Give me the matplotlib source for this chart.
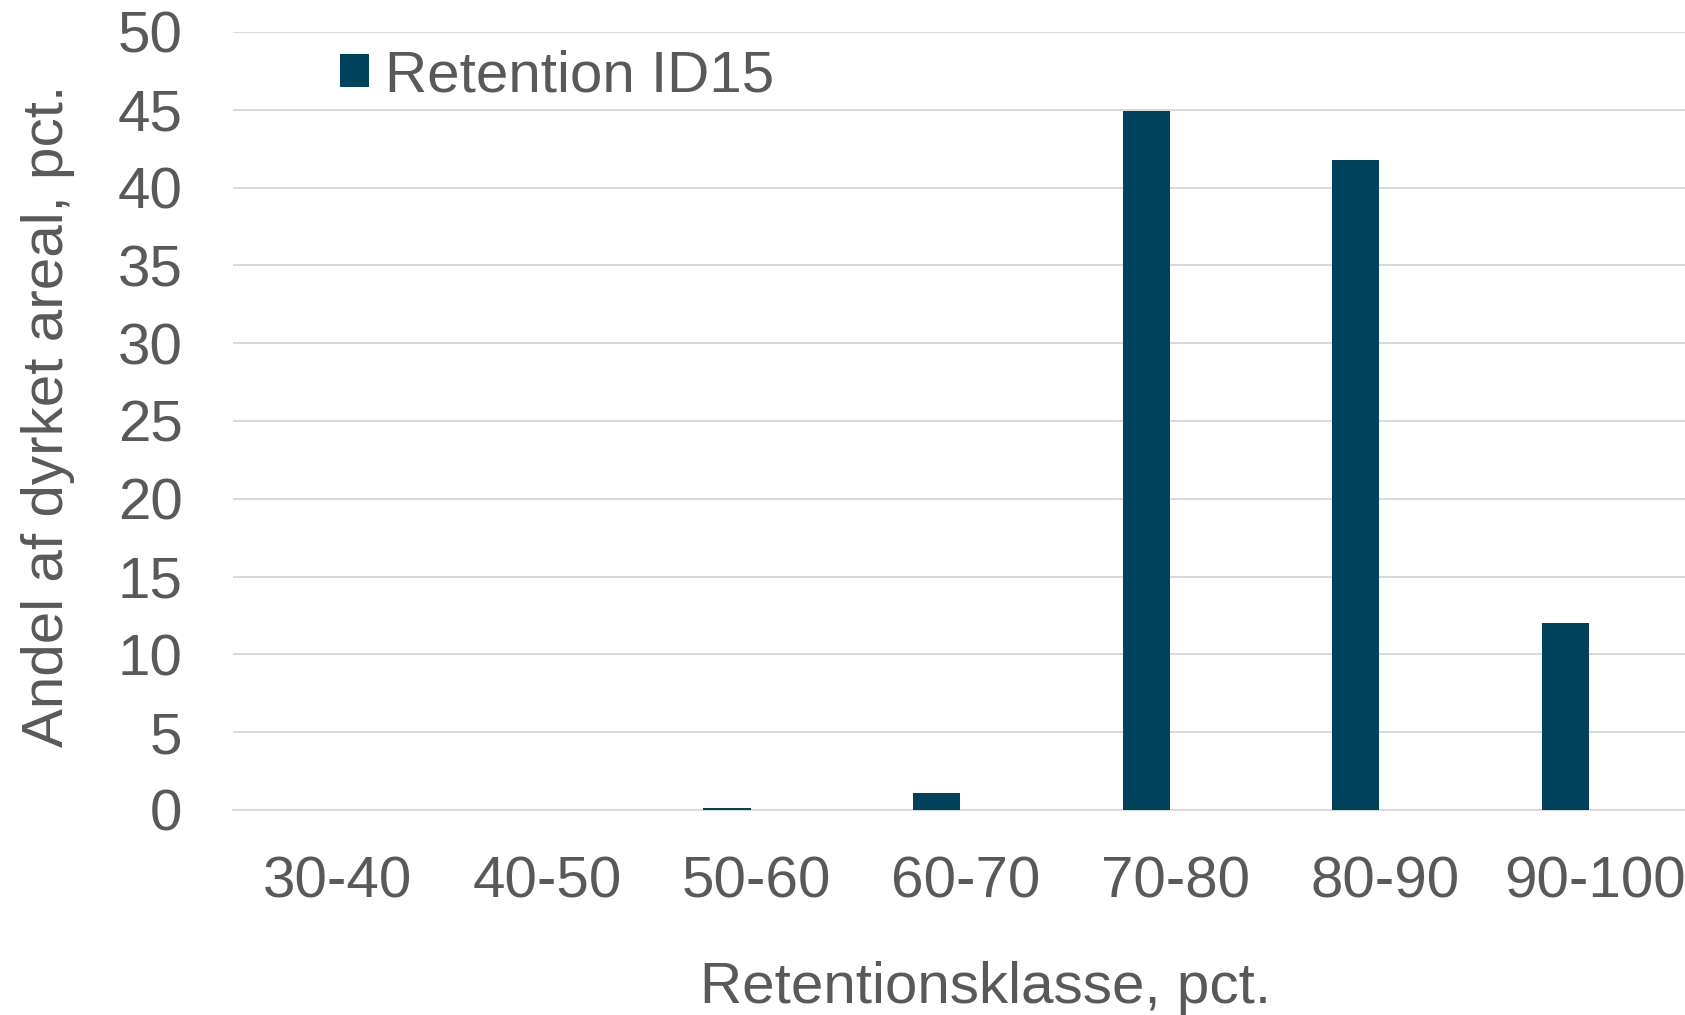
import matplotlib
matplotlib.use("Agg")
import matplotlib.pyplot as plt

# data
klasser = ['30-40', '40-50', '50-60', '60-70', '70-80', '80-90', '90-100']
andel = [0.0, 0.0, 0.1, 1.1, 44.9, 41.8, 12.0]
yticks = [0, 5, 10, 15, 20, 25, 30, 35, 40, 45, 50]

txtcol = '#595959'
barcol = '#00425c'
gridcol = '#d9d9d9'
fs = 42

plt.rcParams['font.family'] = ['Liberation Sans', 'DejaVu Sans']

fig = plt.figure(figsize=(16.85, 10.15), dpi=100)
# plot area runs past the right edge of the picture (last label is cut off)
ax = fig.add_axes([0.138, 0.202, 0.8706, 0.7665])

x = list(range(len(klasser)))
# bars sit a bit left of the category centre (excel gap for a second series)
ax.bar([i - 0.14 for i in x], andel, width=0.226, color=barcol,
       label='Retention ID15', zorder=3)

ax.set_xlim(-0.5, len(klasser) - 0.5)
ax.set_ylim(0, 50)
ax.set_yticks(yticks)
ax.set_xticks(x)
ax.set_xticklabels(klasser)
ax.yaxis.grid(True, color=gridcol, linewidth=1.5, zorder=0)
ax.set_axisbelow(True)
for s in ['top', 'right', 'left']:
    ax.spines[s].set_visible(False)
ax.spines['bottom'].set_color(gridcol)
ax.spines['bottom'].set_linewidth(1.5)
ax.tick_params(axis='both', length=0, labelsize=fs, colors=txtcol)
ax.tick_params(axis='x', pad=33)
ax.tick_params(axis='y', pad=36)

ax.set_xlabel('Retentionsklasse, pct.', fontsize=fs, color=txtcol)
ax.xaxis.set_label_coords(0.513, -0.194)
ax.set_ylabel('Andel af dyrket areal, pct.', fontsize=fs, color=txtcol)
ax.yaxis.set_label_coords(-0.1075, 0.507)

leg = ax.legend(loc='center left', bbox_to_anchor=(0.073, 0.943), frameon=False,
                fontsize=fs, handlelength=0.5, handleheight=0.5, handletextpad=0.28,
                borderpad=0, borderaxespad=0)
for t in leg.get_texts():
    t.set_color(txtcol)

fig.savefig('out.png', dpi=100)
